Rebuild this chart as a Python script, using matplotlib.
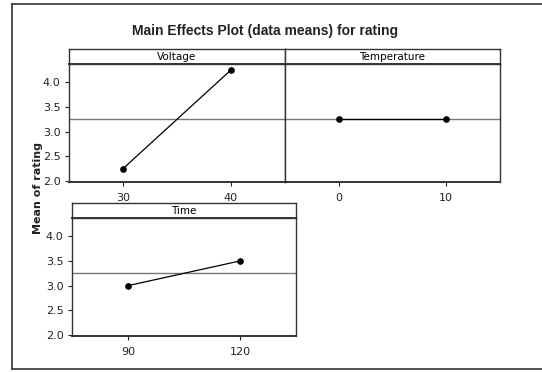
import matplotlib
matplotlib.use('Agg')
import matplotlib.pyplot as plt
from matplotlib.lines import Line2D

plt.rcParams['font.family'] = ['DejaVu Sans']

# data means per factor
voltage_levels = [30, 40]
voltage_means = [2.25, 4.25]
temperature_levels = [0, 10]
temperature_means = [3.25, 3.25]
time_levels = [90, 120]
time_means = [3.0, 3.5]
grand_mean = 3.25

factor_names = ['Voltage', 'Temperature', 'Time']
yticks = [2.0, 2.5, 3.0, 3.5, 4.0]

W, H = 542, 372
fig = plt.figure(figsize=(W / 100, H / 100), dpi=100)


def px_axes(x0, y0, x1, y1):
    return fig.add_axes([x0 / W, 1 - y1 / H, (x1 - x0) / W, (y1 - y0) / H])


def panel(x0, x1, ytop, ybot, name, levels, means, xlim, show_y):
    ax = px_axes(x0, ytop + 15, x1, ybot)
    ax.axhline(grand_mean, color='#777777', lw=1.0, zorder=1)
    ax.plot(levels, means, color='black', lw=0.9, marker='o', ms=3.8, zorder=3)
    ax.set_xlim(*xlim)
    ax.set_ylim(1.98, 4.37)
    ax.set_xticks(levels)
    ax.set_yticks(yticks)
    if show_y:
        ax.set_yticklabels([f'{v:.1f}' for v in yticks])
    else:
        ax.tick_params(axis='y', left=False, labelleft=False)
    ax.tick_params(direction='out', length=3, width=0.8, labelsize=8, pad=3,
                   colors='#222222')
    ax.tick_params(axis='x', pad=5)
    for s in ax.spines.values():
        s.set_linewidth(1.0)
        s.set_color('#333333')
    ax.spines['bottom'].set_linewidth(1.4)
    # strip header
    st = px_axes(x0, ytop, x1, ytop + 15)
    st.set_xticks([])
    st.set_yticks([])
    for s in st.spines.values():
        s.set_linewidth(1.0)
        s.set_color('#333333')
    st.spines['bottom'].set_linewidth(1.4)
    st.text(0.5, 0.45, name, ha='center', va='center', fontsize=7.5,
            transform=st.transAxes)
    return ax


panel(69, 285, 49, 182, factor_names[0], voltage_levels, voltage_means, (25, 45), True)
panel(285, 500, 49, 182, factor_names[1], temperature_levels, temperature_means, (-5, 15), False)
panel(72, 296, 203, 336, factor_names[2], time_levels, time_means, (75, 135), True)

fig.text(265 / W, 1 - 31 / H, 'Main Effects Plot (data means) for rating',
         ha='center', va='center', fontsize=10, fontweight='bold', color='#222222',
         family='Liberation Sans')
fig.text(38 / W, 1 - 188 / H, 'Mean of rating', ha='center', va='center',
         rotation=90, fontsize=8, fontweight='bold', color='#222222')

# outer frame
for xs, ys in [([12, 542], [4, 4]), ([12, 12], [4, 369]), ([12, 542], [369, 369])]:
    fig.add_artist(Line2D([x / W for x in xs], [1 - y / H for y in ys],
                          color='#333333', lw=1.2))

fig.savefig('out.png', dpi=100)
